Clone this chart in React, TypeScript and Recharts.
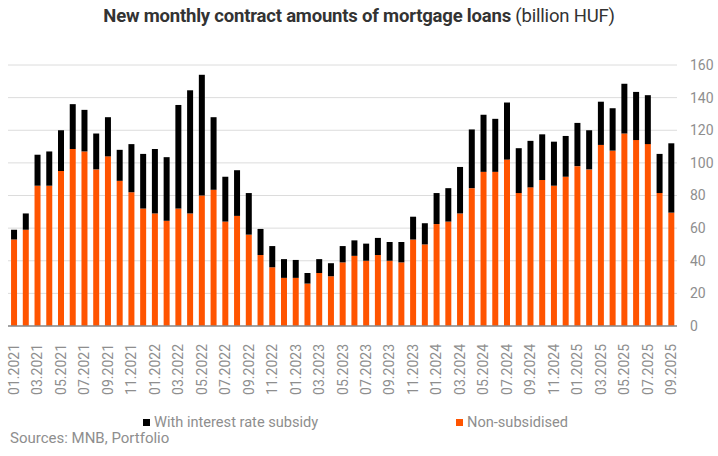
import React from 'react'
import { Bar, BarChart, CartesianGrid, XAxis, YAxis } from 'recharts'

const months = [
  '01.2021', '02.2021', '03.2021', '04.2021', '05.2021', '06.2021', '07.2021', '08.2021', '09.2021', '10.2021', '11.2021', '12.2021',
  '01.2022', '02.2022', '03.2022', '04.2022', '05.2022', '06.2022', '07.2022', '08.2022', '09.2022', '10.2022', '11.2022', '12.2022',
  '01.2023', '02.2023', '03.2023', '04.2023', '05.2023', '06.2023', '07.2023', '08.2023', '09.2023', '10.2023', '11.2023', '12.2023',
  '01.2024', '02.2024', '03.2024', '04.2024', '05.2024', '06.2024', '07.2024', '08.2024', '09.2024', '10.2024', '11.2024', '12.2024',
  '01.2025', '02.2025', '03.2025', '04.2025', '05.2025', '06.2025', '07.2025', '08.2025', '09.2025',
]

// billion HUF
const nonSubsidised = [
  53, 59, 86, 86, 95, 108.5, 107, 96, 104, 89, 82, 72,
  69, 64.5, 72, 69, 80, 83.5, 64, 67.5, 56, 43.5, 36, 29.5,
  29.5, 26, 32.5, 30.5, 39, 43, 40, 43.5, 40, 39, 53, 50,
  62.5, 64, 69, 84.5, 94.5, 94.5, 102, 81.5, 85, 89.5, 86, 91.5,
  98, 96, 111, 107.5, 118, 114, 111.5, 81.5, 69.5,
]

const withSubsidy = [
  6, 10, 19, 21, 25, 27.5, 25.5, 22, 24, 19, 29.5, 33.5,
  39.5, 39, 63.5, 75.5, 74, 44.5, 27.5, 28, 25.5, 16, 13, 11.5,
  11, 6.5, 8.5, 8, 10, 9.5, 10.5, 10.5, 11.5, 12.5, 14, 13,
  19, 20.5, 28.5, 36, 35, 32.5, 35, 27.5, 28.5, 28, 27, 25,
  26.5, 24, 26.5, 26, 30.5, 29.5, 30, 24, 42.5,
]

const yTicks = [0, 20, 40, 60, 80, 100, 120, 140, 160]

const data = months.map((m, i) => ({
  month: m,
  nonSubsidised: nonSubsidised[i],
  withSubsidy: withSubsidy[i],
}))

const FONT = 'Roboto, sans-serif'
const GRAY = '#8e8e8e'
const ORANGE = '#ff5400'

const MonthTick = (props: any) => {
  const { x, y, payload } = props
  return (
    <text
      x={0}
      y={0}
      transform={`translate(${x},${y + 10}) rotate(-90)`}
      textAnchor="end"
      dy="0.36em"
      fill={GRAY}
      fontSize={14}
      fontFamily={FONT}
    >
      {payload.value}
    </text>
  )
}

const legendItem = (left: number, color: string, label: string) => (
  <div style={{ position: 'absolute', left, top: 413, display: 'flex', alignItems: 'center', fontFamily: FONT, fontSize: 14.6, color: GRAY }}>
    <span style={{ width: 7, height: 7, background: color, display: 'inline-block', marginRight: 4 }} />
    <span>{label}</span>
  </div>
)

const App = () => {
  return (
    <div style={{ position: 'absolute', left: 0, top: 0, width: 718, height: 456, background: '#fff' }}>
      <div
        style={{
          position: 'absolute',
          top: 5,
          left: 0,
          width: 718,
          textAlign: 'center',
          fontFamily: FONT,
          fontSize: 18.5,
          color: '#333',
          letterSpacing: -0.2,
        }}
      >
        <span style={{ fontWeight: 700 }}>New monthly contract amounts of mortgage loans</span> (billion HUF)
      </div>
      <BarChart
        width={718}
        height={456}
        data={data}
        margin={{ top: 65, right: 0, left: 8, bottom: 60 }}
        barCategoryGap="26%"
      >
        <CartesianGrid vertical={false} stroke="#dcdcdc" />
        <XAxis
          dataKey="month"
          interval={1}
          height={70}
          tick={<MonthTick />}
          tickLine={false}
          axisLine={{ stroke: '#8a8a8a', strokeWidth: 1.5 }}
        />
        <YAxis
          orientation="right"
          width={41}
          domain={[0, 160]}
          ticks={yTicks}
          tickLine={false}
          axisLine={false}
          tickSize={0}
          tickMargin={13}
          tick={{ fill: GRAY, fontSize: 14, fontFamily: FONT }}
        />
        <Bar dataKey="nonSubsidised" stackId="a" fill={ORANGE} isAnimationActive={false} />
        <Bar dataKey="withSubsidy" stackId="a" fill="#000" isAnimationActive={false} />
      </BarChart>
      {legendItem(143, '#000', 'With interest rate subsidy')}
      {legendItem(456, ORANGE, 'Non-subsidised')}
      <div
        style={{
          position: 'absolute',
          left: 10,
          top: 429,
          fontFamily: FONT,
          fontSize: 15,
          color: GRAY,
        }}
      >
        Sources: MNB, Portfolio
      </div>
    </div>
  )
}

export default App
